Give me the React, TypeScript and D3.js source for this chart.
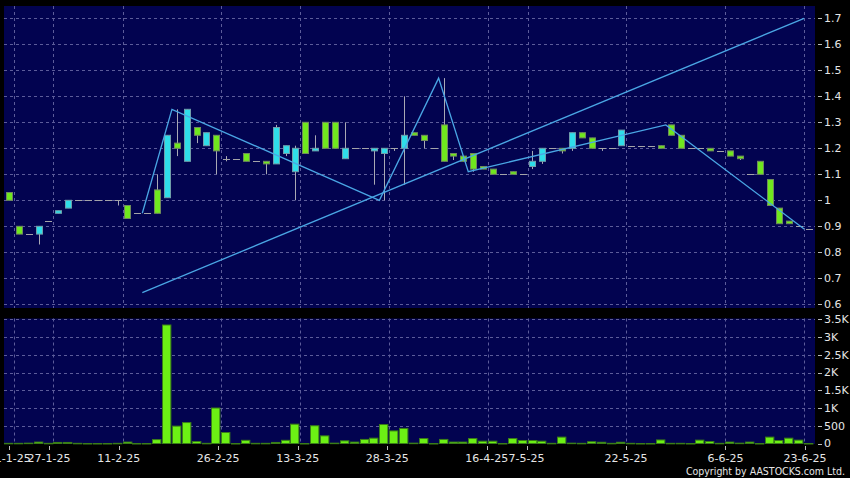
import * as d3 from "d3";

const W = 850;
const H = 478;

// daily candles, index 0 = 20-1-25 ... 81 = 23-6-25
const opens = [
  1.03, 0.9, 0.87, 0.87, 0.92, 0.95, 0.97, 1.0, 1.0, 1.0,
  1.0, 1.0, 0.98, 0.95, 0.95, 1.04, 1.01, 1.22, 1.15, 1.28,
  1.21, 1.25, 1.16, 1.16, 1.18, 1.15, 1.15, 1.14, 1.18, 1.11,
  1.3, 1.19, 1.3, 1.3, 1.16, 1.2, 1.2, 1.19, 1.18, 1.2,
  1.2, 1.26, 1.25, 1.2, 1.29, 1.18, 1.17, 1.18, 1.13, 1.12,
  1.1, 1.11, 1.1, 1.13, 1.15, 1.2, 1.2, 1.2, 1.26, 1.24,
  1.2, 1.2, 1.21, 1.21, 1.21, 1.21, 1.21, 1.29, 1.25, 1.2,
  1.2, 1.2, 1.19, 1.19, 1.17, 1.1, 1.15, 1.08, 0.97, 0.92,
  0.9, 0.89,
];
const highs = [
  1.03, 0.9, 0.87, 0.9, 0.92, 0.96, 1.0, 1.0, 1.0, 1.0,
  1.0, 1.0, 0.98, 0.95, 0.95, 1.1, 1.25, 1.35, 1.35, 1.28,
  1.26, 1.25, 1.17, 1.16, 1.18, 1.15, 1.15, 1.29, 1.21, 1.21,
  1.3, 1.25, 1.3, 1.3, 1.3, 1.2, 1.2, 1.2, 1.2, 1.2,
  1.4, 1.26, 1.25, 1.2, 1.47, 1.18, 1.17, 1.18, 1.13, 1.12,
  1.1, 1.11, 1.1, 1.19, 1.2, 1.2, 1.2, 1.26, 1.26, 1.24,
  1.2, 1.2, 1.27, 1.21, 1.21, 1.21, 1.21, 1.29, 1.25, 1.2,
  1.2, 1.2, 1.19, 1.19, 1.17, 1.1, 1.15, 1.08, 0.97, 0.92,
  0.9, 0.89,
];
const lows = [
  1.0, 0.87, 0.87, 0.83, 0.92, 0.95, 0.97, 1.0, 1.0, 1.0,
  1.0, 0.98, 0.93, 0.95, 0.95, 0.95, 1.01, 1.17, 1.15, 1.22,
  1.21, 1.1, 1.15, 1.16, 1.15, 1.15, 1.1, 1.14, 1.17, 1.0,
  1.18, 1.19, 1.2, 1.2, 1.16, 1.2, 1.2, 1.06, 1.0, 1.19,
  1.06, 1.25, 1.2, 1.2, 1.15, 1.155, 1.15, 1.11, 1.12, 1.1,
  1.1, 1.1, 1.1, 1.12, 1.14, 1.2, 1.18, 1.19, 1.24, 1.2,
  1.19, 1.2, 1.21, 1.21, 1.21, 1.21, 1.2, 1.25, 1.2, 1.2,
  1.2, 1.19, 1.19, 1.17, 1.155, 1.1, 1.1, 0.98, 0.91, 0.91,
  0.9, 0.89,
];
const closes = [
  1.0, 0.87, 0.87, 0.9, 0.92, 0.96, 1.0, 1.0, 1.0, 1.0,
  1.0, 1.0, 0.93, 0.95, 0.95, 0.95, 1.25, 1.2, 1.35, 1.25,
  1.26, 1.19, 1.16, 1.16, 1.15, 1.15, 1.14, 1.28, 1.21, 1.2,
  1.18, 1.2, 1.2, 1.2, 1.2, 1.2, 1.2, 1.2, 1.2, 1.2,
  1.25, 1.25, 1.23, 1.2, 1.15, 1.17, 1.15, 1.12, 1.12, 1.1,
  1.1, 1.1, 1.1, 1.15, 1.2, 1.2, 1.19, 1.26, 1.24, 1.2,
  1.2, 1.2, 1.27, 1.21, 1.21, 1.21, 1.2, 1.25, 1.2, 1.2,
  1.2, 1.19, 1.19, 1.17, 1.16, 1.1, 1.1, 0.98, 0.91, 0.91,
  0.9, 0.89,
];
const volumes = [
  5, 5, 10, 40, 5, 30, 30, 5, 0, 0,
  0, 5, 40, 0, 0, 110, 3340, 490, 590, 55,
  5, 1000, 310, 0, 90, 5, 5, 30, 90, 545,
  0, 500, 215, 10, 75, 40, 115, 150, 535, 355,
  425, 10, 140, 0, 115, 40, 40, 140, 65, 65,
  0, 140, 85, 85, 65, 5, 180, 10, 5, 50,
  35, 5, 35, 5, 0, 0, 100, 5, 5, 0,
  95, 55, 5, 40, 10, 40, 0, 180, 85, 150,
  95, 0,
];

const tickIdx = [1, 5, 12, 22, 30, 39, 49, 53, 63, 73, 81];
const tickLabels = [
  "21-1-25", "27-1-25", "11-2-25", "26-2-25", "13-3-25", "28-3-25",
  "16-4-25", "7-5-25", "22-5-25", "6-6-25", "23-6-25",
];
const priceTicks = [0.6, 0.7, 0.8, 0.9, 1.0, 1.1, 1.2, 1.3, 1.4, 1.5, 1.6, 1.7];
const priceTickLabels = ["0.6", "0.7", "0.8", "0.9", "1", "1.1", "1.2", "1.3", "1.4", "1.5", "1.6", "1.7"];
const volTicks = [0, 500, 1000, 1500, 2000, 2500, 3000, 3500];
const volTickLabels = ["0", "500", "1K", "1.5K", "2K", "2.5K", "3K", "3.5K"];

// zigzag and trend line vertices
const zigzagIdx = [14, 17, 38, 44, 47, 67, 81];
const zigzagVals = [0.95, 1.35, 1.0, 1.47, 1.11, 1.29, 0.89];
const trendIdx = [14, 81];
const trendVals = [0.645, 1.7];

const LEFT = 4;
const RIGHT = 814;
const MAIN_TOP = 6;
const MAIN_BOTTOM = 308;
const VOL_TOP = 318.5;
const VOL_BOTTOM = 444;

const BG = "#020350";
const GRID = "#5c5c9a";
const TEXT = "#e6e6e6";
const CYAN = "#2fdde9";
const GREEN = "#70e81e";
const LINE = "#4aa6e4";
const FONT = "'DejaVu Sans', sans-serif";

export default function App() {
  const n = closes.length;
  const x = d3.scaleBand<number>().domain(d3.range(n)).range([LEFT, RIGHT]).padding(0);
  const bw = x.bandwidth();
  const cx = (i: number) => (x(i) as number) + bw / 2;
  const y = d3.scaleLinear().domain([0.6, 1.7]).range([304.3, 18.3]);
  const yv = d3.scaleLinear().domain([0, 3500]).range([443.5, 319.3]);
  // date labels sit on a slightly different spread than the grid
  const xl = d3.scaleLinear().domain([1, 81]).range([9.3, 805]);

  const lineGen = d3
    .line<[number, number]>()
    .x((d) => x(d[0]) as number)
    .y((d) => y(d[1]));
  const zigzag = lineGen(zigzagIdx.map((k, i) => [k, zigzagVals[i]] as [number, number]));
  const trend = lineGen(trendIdx.map((k, i) => [k, trendVals[i]] as [number, number]));

  const crisp = (v: number) => Math.round(v) + 0.5;

  return (
    <>
      <style>{`body{margin:0;background:#000}`}</style>
      <svg width={W} height={H} style={{ display: "block", background: "#000" }}>
        {/* panels */}
        <rect x={LEFT} y={MAIN_TOP} width={RIGHT + 1 - LEFT} height={MAIN_BOTTOM - MAIN_TOP} fill={BG} />
        <rect x={LEFT} y={VOL_TOP} width={RIGHT + 1 - LEFT} height={VOL_BOTTOM - VOL_TOP} fill={BG} />

        {/* horizontal grid */}
        <g stroke={GRID} strokeDasharray="3,3" strokeWidth={1}>
          {priceTicks.map((t) => (
            <line key={"pg" + t} x1={LEFT} x2={RIGHT + 1} y1={crisp(y(t))} y2={crisp(y(t))} />
          ))}
          {volTicks.slice(1).map((t) => (
            <line key={"vg" + t} x1={LEFT} x2={RIGHT + 1} y1={crisp(yv(t))} y2={crisp(yv(t))} />
          ))}
          {tickIdx.map((k) => (
            <g key={"xg" + k}>
              <line x1={crisp(x(k) as number)} x2={crisp(x(k) as number)} y1={MAIN_TOP} y2={MAIN_BOTTOM} />
              <line x1={crisp(x(k) as number)} x2={crisp(x(k) as number)} y1={VOL_TOP} y2={VOL_BOTTOM} />
            </g>
          ))}
        </g>

        {/* candles */}
        <g>
          {closes.map((c, i) => {
            const o = opens[i];
            const h = highs[i];
            const l = lows[i];
            const xc = Math.round(cx(i));
            const wick =
              h !== l ? (
                <line x1={xc + 0.5} x2={xc + 0.5} y1={y(h)} y2={y(l)} stroke="#a9a9b4" strokeWidth={1} />
              ) : null;
            if (o === c) {
              return (
                <g key={"c" + i}>
                  {wick}
                  <line x1={xc - 3} x2={xc + 4} y1={crisp(y(c))} y2={crisp(y(c))} stroke="#a4a4a8" strokeWidth={1} />
                </g>
              );
            }
            const top = y(Math.max(o, c));
            const bot = y(Math.min(o, c));
            return (
              <g key={"c" + i}>
                {wick}
                <rect
                  x={xc - 2.5}
                  y={top}
                  width={6}
                  height={Math.max(bot - top, 1.5)}
                  fill={c > o ? CYAN : GREEN}
                  stroke={c > o ? "#6f9eaa" : "#6f8a5c"}
                  strokeWidth={1}
                />
              </g>
            );
          })}
        </g>

        {/* zigzag and trend line */}
        <path d={trend ?? ""} fill="none" stroke={LINE} strokeWidth={1.3} />
        <path d={zigzag ?? ""} fill="none" stroke={LINE} strokeWidth={1.3} />

        {/* volume bars */}
        <g>
          {volumes.map((v, i) => (
            <rect
              key={"v" + i}
              x={Math.round(x(i) as number) + 0.5}
              y={yv(v)}
              width={bw - 1.5}
              height={Math.max(yv(0) - yv(v), 0.5)}
              fill="#6cf014"
              stroke="#3a7d18"
              strokeWidth={1}
            />
          ))}
        </g>

        {/* right price axis */}
        <g fontFamily={FONT} fontSize={11} fill={TEXT}>
          {priceTicks.map((t, i) => (
            <g key={"pt" + t}>
              <line x1={818} x2={822} y1={crisp(y(t))} y2={crisp(y(t))} stroke="#bbbbbb" />
              <text x={824} y={y(t)} dy="0.36em">
                {priceTickLabels[i]}
              </text>
            </g>
          ))}
          {volTicks.map((t, i) => (
            <g key={"vt" + t}>
              <line x1={818} x2={822} y1={crisp(yv(t))} y2={crisp(yv(t))} stroke="#bbbbbb" />
              <text x={824} y={yv(t)} dy="0.36em">
                {volTickLabels[i]}
              </text>
            </g>
          ))}
        </g>

        {/* date axis */}
        <g fontFamily={FONT} fontSize={11} fill={TEXT}>
          {tickIdx.map((k, i) => (
            <g key={"xt" + k}>
              <line x1={crisp(xl(k))} x2={crisp(xl(k))} y1={446} y2={450} stroke="#bbbbbb" />
              <text x={xl(k)} y={461.5} textAnchor="middle">
                {tickLabels[i]}
              </text>
            </g>
          ))}
        </g>

        <text
          x={845}
          y={475}
          textAnchor="end"
          fontFamily="'DejaVu Sans Condensed', 'Liberation Sans', sans-serif"
          fontSize={10.5}
          fill={TEXT}
        >
          Copyright by AASTOCKS.com Ltd.
        </text>
      </svg>
    </>
  );
}
